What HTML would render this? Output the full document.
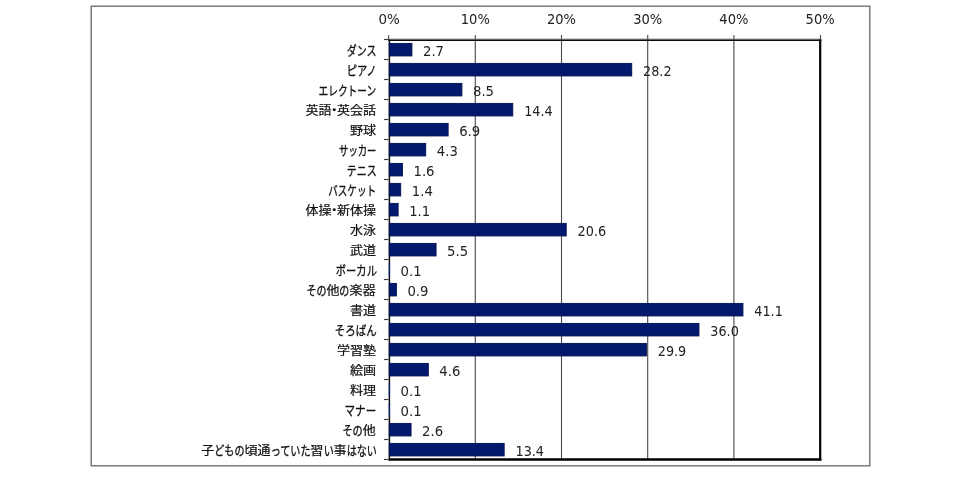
<!DOCTYPE html>
<html lang="ja">
<head>
<meta charset="utf-8">
<title>子どもの頃通っていた習い事</title>
<style>
html,body{margin:0;padding:0;background:#fff;}
body{width:960px;height:480px;overflow:hidden;position:relative;}
svg{position:absolute;left:0;top:0;display:block;}
.lbl{position:absolute;right:584.0px;height:20px;line-height:20px;white-space:nowrap;text-align:right;
 font-family:"Liberation Sans","Noto Sans CJK JP",sans-serif;font-size:12.0px;font-weight:400;-webkit-text-stroke:0.22px #111;color:#111;transform:scaleX(1.085);transform-origin:100% 50%;}
.lbl .k{display:inline-block;transform-origin:0 50%;-webkit-text-stroke:0.3px #111;}
.lbl .d{display:inline-block;margin:0 -3.48px;}
.num{font-family:"DejaVu Sans","Liberation Sans",sans-serif;font-size:14px;fill:#222;}

.ax{font-family:"DejaVu Sans","Liberation Sans",sans-serif;font-size:14px;fill:#222;}
</style>
</head>
<body>
<svg width="960" height="480" viewBox="0 0 960 480">
<rect x="91.2" y="6.2" width="778.6" height="459.6" fill="#fff" stroke="#676767" stroke-width="1.3"/>
<line x1="475.30" y1="35" x2="475.30" y2="459.5" stroke="#4a4a4a" stroke-width="1.1"/>
<line x1="561.50" y1="35" x2="561.50" y2="459.5" stroke="#4a4a4a" stroke-width="1.1"/>
<line x1="647.70" y1="35" x2="647.70" y2="459.5" stroke="#4a4a4a" stroke-width="1.1"/>
<line x1="733.90" y1="35" x2="733.90" y2="459.5" stroke="#4a4a4a" stroke-width="1.1"/>
<line x1="388.60" y1="35" x2="388.60" y2="41" stroke="#4a4a4a" stroke-width="1.1"/>
<line x1="820.50" y1="35" x2="820.50" y2="41" stroke="#4a4a4a" stroke-width="1.1"/>
<line x1="388.6" y1="39.1" x2="821.3" y2="39.1" stroke="#8a8a8a" stroke-width="1"/>
<line x1="388.6" y1="40.2" x2="821.3" y2="40.2" stroke="#0a0a0a" stroke-width="1.4"/>
<line x1="820.2" y1="39.5" x2="820.2" y2="460.5" stroke="#000" stroke-width="2.2"/>
<line x1="388.6" y1="459.5" x2="821.3" y2="459.5" stroke="#000" stroke-width="2.7"/>
<line x1="389.40" y1="39.5" x2="389.40" y2="460.5" stroke="#111" stroke-width="1.5"/>
<line x1="383.9" y1="39.50" x2="388.6" y2="39.50" stroke="#3c3c3c" stroke-width="1.15"/>
<line x1="383.9" y1="59.50" x2="388.6" y2="59.50" stroke="#3c3c3c" stroke-width="1.15"/>
<line x1="383.9" y1="79.50" x2="388.6" y2="79.50" stroke="#3c3c3c" stroke-width="1.15"/>
<line x1="383.9" y1="99.50" x2="388.6" y2="99.50" stroke="#3c3c3c" stroke-width="1.15"/>
<line x1="383.9" y1="119.50" x2="388.6" y2="119.50" stroke="#3c3c3c" stroke-width="1.15"/>
<line x1="383.9" y1="139.50" x2="388.6" y2="139.50" stroke="#3c3c3c" stroke-width="1.15"/>
<line x1="383.9" y1="159.50" x2="388.6" y2="159.50" stroke="#3c3c3c" stroke-width="1.15"/>
<line x1="383.9" y1="179.50" x2="388.6" y2="179.50" stroke="#3c3c3c" stroke-width="1.15"/>
<line x1="383.9" y1="199.50" x2="388.6" y2="199.50" stroke="#3c3c3c" stroke-width="1.15"/>
<line x1="383.9" y1="219.50" x2="388.6" y2="219.50" stroke="#3c3c3c" stroke-width="1.15"/>
<line x1="383.9" y1="239.50" x2="388.6" y2="239.50" stroke="#3c3c3c" stroke-width="1.15"/>
<line x1="383.9" y1="259.50" x2="388.6" y2="259.50" stroke="#3c3c3c" stroke-width="1.15"/>
<line x1="383.9" y1="279.50" x2="388.6" y2="279.50" stroke="#3c3c3c" stroke-width="1.15"/>
<line x1="383.9" y1="299.50" x2="388.6" y2="299.50" stroke="#3c3c3c" stroke-width="1.15"/>
<line x1="383.9" y1="319.50" x2="388.6" y2="319.50" stroke="#3c3c3c" stroke-width="1.15"/>
<line x1="383.9" y1="339.50" x2="388.6" y2="339.50" stroke="#3c3c3c" stroke-width="1.15"/>
<line x1="383.9" y1="359.50" x2="388.6" y2="359.50" stroke="#3c3c3c" stroke-width="1.15"/>
<line x1="383.9" y1="379.50" x2="388.6" y2="379.50" stroke="#3c3c3c" stroke-width="1.15"/>
<line x1="383.9" y1="399.50" x2="388.6" y2="399.50" stroke="#3c3c3c" stroke-width="1.15"/>
<line x1="383.9" y1="419.50" x2="388.6" y2="419.50" stroke="#3c3c3c" stroke-width="1.15"/>
<line x1="383.9" y1="439.50" x2="388.6" y2="439.50" stroke="#3c3c3c" stroke-width="1.15"/>
<line x1="383.9" y1="459.50" x2="388.6" y2="459.50" stroke="#3c3c3c" stroke-width="1.15"/>
<rect x="389.25" y="43.40" width="22.67" height="12.55" fill="#03196e" stroke="#021050" stroke-width="0.9"/>
<rect x="389.25" y="63.40" width="242.48" height="12.55" fill="#03196e" stroke="#021050" stroke-width="0.9"/>
<rect x="389.25" y="83.40" width="72.67" height="12.55" fill="#03196e" stroke="#021050" stroke-width="0.9"/>
<rect x="389.25" y="103.40" width="123.53" height="12.55" fill="#03196e" stroke="#021050" stroke-width="0.9"/>
<rect x="389.25" y="123.40" width="58.88" height="12.55" fill="#03196e" stroke="#021050" stroke-width="0.9"/>
<rect x="389.25" y="143.40" width="36.47" height="12.55" fill="#03196e" stroke="#021050" stroke-width="0.9"/>
<rect x="389.25" y="163.40" width="13.19" height="12.55" fill="#03196e" stroke="#021050" stroke-width="0.9"/>
<rect x="389.25" y="183.40" width="11.47" height="12.55" fill="#03196e" stroke="#021050" stroke-width="0.9"/>
<rect x="389.25" y="203.40" width="8.88" height="12.55" fill="#03196e" stroke="#021050" stroke-width="0.9"/>
<rect x="389.25" y="223.40" width="176.97" height="12.55" fill="#03196e" stroke="#021050" stroke-width="0.9"/>
<rect x="389.25" y="243.40" width="46.81" height="12.55" fill="#03196e" stroke="#021050" stroke-width="0.9"/>
<rect x="388.80" y="262.95" width="1.16" height="13.45" fill="#03196e"/>
<rect x="389.25" y="283.40" width="7.16" height="12.55" fill="#03196e" stroke="#021050" stroke-width="0.9"/>
<rect x="389.25" y="303.40" width="353.68" height="12.55" fill="#03196e" stroke="#021050" stroke-width="0.9"/>
<rect x="389.25" y="323.40" width="309.72" height="12.55" fill="#03196e" stroke="#021050" stroke-width="0.9"/>
<rect x="389.25" y="343.40" width="257.14" height="12.55" fill="#03196e" stroke="#021050" stroke-width="0.9"/>
<rect x="389.25" y="363.40" width="39.05" height="12.55" fill="#03196e" stroke="#021050" stroke-width="0.9"/>
<rect x="388.80" y="382.95" width="1.16" height="13.45" fill="#03196e"/>
<rect x="388.80" y="402.95" width="1.16" height="13.45" fill="#03196e"/>
<rect x="389.25" y="423.40" width="21.81" height="12.55" fill="#03196e" stroke="#021050" stroke-width="0.9"/>
<rect x="389.25" y="443.40" width="114.91" height="12.55" fill="#03196e" stroke="#021050" stroke-width="0.9"/>
<text class="num" transform="translate(422.97,55.80) scale(0.945,1)">2.7</text>
<text class="num" transform="translate(643.08,75.80) scale(0.915,1)">28.2</text>
<text class="num" transform="translate(472.97,95.80) scale(0.945,1)">8.5</text>
<text class="num" transform="translate(524.13,115.80) scale(0.915,1)">14.4</text>
<text class="num" transform="translate(459.18,135.80) scale(0.945,1)">6.9</text>
<text class="num" transform="translate(436.77,155.80) scale(0.945,1)">4.3</text>
<text class="num" transform="translate(413.49,175.80) scale(0.945,1)">1.6</text>
<text class="num" transform="translate(411.77,195.80) scale(0.945,1)">1.4</text>
<text class="num" transform="translate(409.18,215.80) scale(0.945,1)">1.1</text>
<text class="num" transform="translate(577.57,235.80) scale(0.915,1)">20.6</text>
<text class="num" transform="translate(447.11,255.80) scale(0.945,1)">5.5</text>
<text class="num" transform="translate(400.56,275.80) scale(0.945,1)">0.1</text>
<text class="num" transform="translate(407.46,295.80) scale(0.945,1)">0.9</text>
<text class="num" transform="translate(754.28,315.80) scale(0.915,1)">41.1</text>
<text class="num" transform="translate(710.32,335.80) scale(0.915,1)">36.0</text>
<text class="num" transform="translate(657.74,355.80) scale(0.915,1)">29.9</text>
<text class="num" transform="translate(439.35,375.80) scale(0.945,1)">4.6</text>
<text class="num" transform="translate(400.56,395.80) scale(0.945,1)">0.1</text>
<text class="num" transform="translate(400.56,415.80) scale(0.945,1)">0.1</text>
<text class="num" transform="translate(422.11,435.80) scale(0.945,1)">2.6</text>
<text class="num" transform="translate(515.51,455.80) scale(0.915,1)">13.4</text>
<text class="ax" transform="translate(389.10,24.3) scale(0.960,1)" text-anchor="middle">0%</text>
<text class="ax" transform="translate(475.30,24.3) scale(0.935,1)" text-anchor="middle">10%</text>
<text class="ax" transform="translate(561.50,24.3) scale(0.935,1)" text-anchor="middle">20%</text>
<text class="ax" transform="translate(647.70,24.3) scale(0.935,1)" text-anchor="middle">30%</text>
<text class="ax" transform="translate(733.90,24.3) scale(0.935,1)" text-anchor="middle">40%</text>
<text class="ax" transform="translate(820.10,24.3) scale(0.935,1)" text-anchor="middle">50%</text>
</svg>
<div class="lbl" style="top:40.80px;right:583.5px"><span class="k" style="transform:translateY(-0.5px) scale(0.765,1.07);margin-right:-8.46px">ダンス</span></div>
<div class="lbl" style="top:60.80px;right:583.5px"><span class="k" style="transform:translateY(-0.5px) scale(0.791,1.07);margin-right:-7.54px">ピアノ</span></div>
<div class="lbl" style="top:80.80px;right:583.5px"><span class="k" style="transform:translateY(-0.5px) scale(0.745,1.07);margin-right:-18.36px">エレクトーン</span></div>
<div class="lbl" style="top:100.80px;right:584.0px">英語<span class="d">・</span>英会話</div>
<div class="lbl" style="top:120.80px;right:584.0px">野球</div>
<div class="lbl" style="top:140.80px;right:583.5px"><span class="k" style="transform:translateY(-0.5px) scale(0.718,1.07);margin-right:-13.53px">サッカー</span></div>
<div class="lbl" style="top:160.80px;right:583.5px"><span class="k" style="transform:translateY(-0.5px) scale(0.769,1.07);margin-right:-8.33px">テニス</span></div>
<div class="lbl" style="top:180.80px;right:583.5px"><span class="k" style="transform:translateY(-0.5px) scale(0.734,1.07);margin-right:-15.96px">バスケット</span></div>
<div class="lbl" style="top:200.80px;right:584.0px">体操<span class="d">・</span>新体操</div>
<div class="lbl" style="top:220.80px;right:584.0px">水泳</div>
<div class="lbl" style="top:240.80px;right:584.0px">武道</div>
<div class="lbl" style="top:260.80px;right:583.5px"><span class="k" style="transform:translateY(-0.5px) scale(0.790,1.07);margin-right:-10.10px">ボーカル</span></div>
<div class="lbl" style="top:280.80px;right:584.0px"><span class="k" style="transform:translateY(-0.5px) scale(0.767,1.07);margin-right:-5.60px">その</span>他<span class="k" style="transform:translateY(-0.5px) scale(0.767,1.07);margin-right:-2.80px">の</span>楽器</div>
<div class="lbl" style="top:300.80px;right:584.0px">書道</div>
<div class="lbl" style="top:320.80px;right:583.5px"><span class="k" style="transform:translateY(-0.5px) scale(0.805,1.07);margin-right:-9.36px">そろばん</span></div>
<div class="lbl" style="top:340.80px;right:584.0px">学習塾</div>
<div class="lbl" style="top:360.80px;right:584.0px">絵画</div>
<div class="lbl" style="top:380.80px;right:584.0px">料理</div>
<div class="lbl" style="top:400.80px;right:583.5px"><span class="k" style="transform:translateY(-0.5px) scale(0.811,1.07);margin-right:-6.80px">マナー</span></div>
<div class="lbl" style="top:420.80px;right:584.0px"><span class="k" style="transform:translateY(-0.5px) scale(0.780,1.07);margin-right:-5.27px">その</span>他</div>
<div class="lbl" style="top:440.80px;right:583.5px">子<span class="k" style="transform:translateY(-0.5px) scale(0.774,1.07);margin-right:-8.14px">どもの</span>頃通<span class="k" style="transform:translateY(-0.5px) scale(0.774,1.07);margin-right:-10.85px">っていた</span>習<span class="k" style="transform:translateY(-0.5px) scale(0.774,1.07);margin-right:-2.71px">い</span>事<span class="k" style="transform:translateY(-0.5px) scale(0.774,1.07);margin-right:-8.14px">はない</span></div>
</body>
</html>
